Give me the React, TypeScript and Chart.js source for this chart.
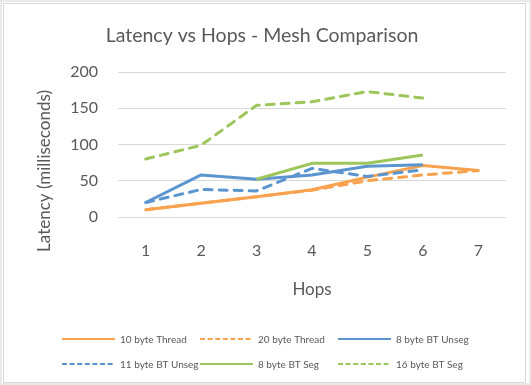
import React, { useEffect, useRef } from 'react';
import { Chart, registerables } from 'chart.js';

Chart.register(...registerables);

const hops = ['1', '2', '3', '4', '5', '6', '7'];
const thread10 = [10, 19, 28, 37.5, 55, 71, 64];
const thread20 = [10, 19, 28, 37, 50, 58, 64];
const btUnseg8 = [20, 58, 52, 58, 70, 72, null];
const btUnseg11 = [20, 38, 36, 67, 56, 65, null];
const btSeg8 = [null, null, 52, 74, 74, 85.5, null];
const btSeg16 = [80, 99, 154, 159, 173, 164, null];

const seriesNames = ['10 byte Thread', '20 byte Thread', '8 byte BT Unseg', '11 byte BT Unseg', '8 byte BT Seg', '16 byte BT Seg'];
const seriesValues = [thread10, thread20, btUnseg8, btUnseg11, btSeg8, btSeg16];
const seriesColors = ['#F9A24E', '#F9A24E', '#5B95D0', '#5B95D0', '#9CC65B', '#9CC65B'];
const seriesDashed = [false, true, false, true, false, true];

const titleText = 'Latency vs Hops - Mesh Comparison';
const yTitleText = 'Latency (milliseconds)';
const xTitleText = 'Hops';

const FONT = 'Lato';
const TEXT = '#595959';

const extrasPlugin = {
  id: 'extras',
  afterDraw(chart: any) {
    const ctx = chart.ctx;
    ctx.save();
    // y axis title
    ctx.fillStyle = TEXT;
    ctx.font = `17px ${FONT}`;
    ctx.textAlign = 'center';
    ctx.textBaseline = 'middle';
    ctx.translate(45, 171);
    ctx.rotate(-Math.PI / 2);
    ctx.fillText(yTitleText, 0, 0);
    ctx.restore();

    // legend grid
    ctx.save();
    const colX = [62, 200, 338];
    const rowY = [339, 364];
    const lineLen = 53;
    chart.data.datasets.forEach((ds: any, i: number) => {
      const x = colX[i % 3];
      const y = rowY[Math.floor(i / 3)];
      ctx.strokeStyle = ds.borderColor;
      ctx.lineWidth = 2;
      ctx.lineCap = 'butt';
      ctx.setLineDash(ds.borderDash && ds.borderDash.length ? [5, 2.6] : []);
      ctx.beginPath();
      ctx.moveTo(x, y);
      ctx.lineTo(x + lineLen, y);
      ctx.stroke();
      ctx.setLineDash([]);
      ctx.fillStyle = TEXT;
      ctx.font = `10px ${FONT}`;
      ctx.textAlign = 'left';
      ctx.textBaseline = 'middle';
      ctx.fillText(ds.label, x + lineLen + 5, y + 1);
    });
    ctx.restore();
  },
};

export default function App() {
  const ref = useRef<HTMLCanvasElement>(null);

  useEffect(() => {
    if (!ref.current) return;
    const datasets = seriesNames.map((name, i) => ({
      label: name,
      data: seriesValues[i],
      borderColor: seriesColors[i],
      backgroundColor: seriesColors[i],
      borderWidth: 3,
      borderDash: seriesDashed[i] ? [8, 7] : [],
      borderCapStyle: seriesDashed[i] ? 'round' : 'butt',
      borderJoinStyle: 'round',
      pointRadius: 0,
      tension: 0,
      spanGaps: false,
      order: seriesNames.length - i,
    }));

    const chart = new Chart(ref.current, {
      type: 'line',
      data: { labels: hops, datasets: datasets as any },
      plugins: [extrasPlugin],
      options: {
        responsive: false,
        animation: false,
        layout: { padding: { left: 18, right: 25, top: 0, bottom: 81 } },
        plugins: {
          legend: { display: false },
          tooltip: { enabled: false },
          title: {
            display: true,
            text: titleText,
            color: TEXT,
            font: { family: FONT, size: 19.5, weight: 'normal' },
            padding: { top: 24, bottom: 24.6 },
          },
        },
        scales: {
          x: {
            offset: true,
            grid: { display: false, drawTicks: false },
            border: { display: false },
            ticks: { color: TEXT, font: { family: FONT, size: 16 }, padding: 24, maxRotation: 0 },
            title: {
              display: true,
              text: xTitleText,
              color: TEXT,
              font: { family: FONT, size: 17 },
              padding: { top: 4, bottom: 4 },
            },
            afterFit: (s: any) => { s.height = 87; },
          },
          y: {
            min: 0,
            max: 200,
            ticks: { stepSize: 50, color: TEXT, font: { family: FONT, size: 16 }, padding: 20 },
            grid: { color: '#D9D9D9', lineWidth: 1, drawTicks: false },
            border: { display: false },
            afterFit: (s: any) => { s.width = 100; },
          },
        },
      },
    });
    return () => chart.destroy();
  }, []);

  return (
    <div style={{ position: 'fixed', left: 0, top: 0, width: 531, height: 385, background: '#fff' }}>
      <canvas ref={ref} width={531} height={385} style={{ position: 'absolute', left: 0, top: 0, width: 531, height: 385 }} />
      <div style={{ position: 'absolute', left: 0, top: 0, width: 531, height: 385, boxSizing: 'border-box', border: '2px solid #EAEAEA', pointerEvents: 'none' }} />
      <div style={{ position: 'absolute', left: 3, top: 3, width: 523, height: 380, boxSizing: 'border-box', border: '1px solid #D9D9D9', pointerEvents: 'none' }} />
    </div>
  );
}
